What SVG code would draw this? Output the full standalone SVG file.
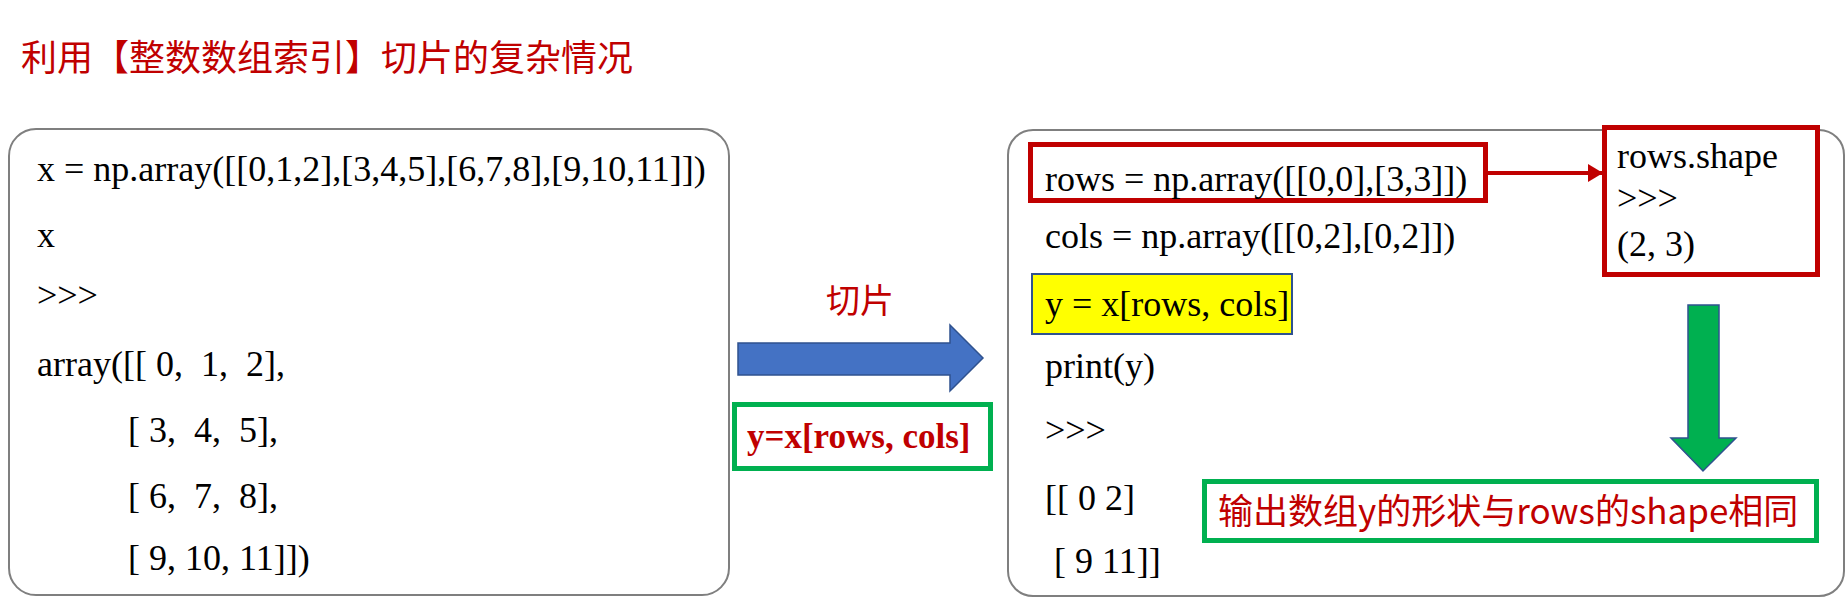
<svg xmlns="http://www.w3.org/2000/svg" width="1848" height="606" viewBox="0 0 1848 606" xml:space="preserve">
<style>
text { white-space: pre; }
.code { font-family: "Liberation Serif", "Times New Roman", serif; font-size: 36px; fill: #000; }
.cjk { font-family: "Noto Sans CJK SC", "Noto Sans CJK TC", sans-serif; fill: #C00000; }
.panel { fill: #fff; stroke: #7F7F7F; stroke-width: 2; }
.redbox { fill: #fff; stroke: #C00000; stroke-width: 5; }
.greenbox { fill: #fff; stroke: #00B050; stroke-width: 5; }
</style>
<defs>
<marker id="redhead" markerUnits="userSpaceOnUse" markerWidth="16" markerHeight="20" refX="15" refY="9" orient="auto">
<path d="M0,0 L15,9 L0,18 Z" fill="#C00000"/>
</marker>
</defs>
<rect width="1848" height="606" fill="#fff"/>

<g id="title">
<text class="cjk" x="21" y="71" font-size="36">利用【整数数组索引】切片的复杂情况</text>
</g>

<g id="left-panel">
<rect class="panel" x="9" y="129" width="720" height="466" rx="27" ry="27"/>
<text class="code" x="37" y="181">x = np.array([[0,1,2],[3,4,5],[6,7,8],[9,10,11]])</text>
<text class="code" x="37" y="247">x</text>
<text class="code" x="37" y="307">&gt;&gt;&gt;</text>
<text class="code" x="37" y="376">array([[ 0,  1,  2],</text>
<text class="code" x="128" y="442">[ 3,  4,  5],</text>
<text class="code" x="128" y="508">[ 6,  7,  8],</text>
<text class="code" x="128" y="570">[ 9, 10, 11]])</text>
</g>

<g id="slice-label">
<text class="cjk" x="860" y="313" font-size="34" text-anchor="middle">切片</text>
</g>

<g id="slice-expr">
<rect class="greenbox" x="734.5" y="404.5" width="256" height="64"/>
<text x="747" y="448" font-family="Liberation Serif, Times New Roman, serif" font-size="35" font-weight="bold" fill="#C00000">y=x[rows, cols]</text>
</g>

<g id="right-panel">
<rect class="panel" x="1008" y="130" width="836" height="466" rx="25" ry="25"/>
<text class="code" x="1045" y="248">cols = np.array([[0,2],[0,2]])</text>
<text class="code" x="1045" y="378">print(y)</text>
<text class="code" x="1045" y="442">&gt;&gt;&gt;</text>
<text class="code" x="1045" y="510">[[ 0 2]</text>
<text class="code" x="1045" y="573"> [ 9 11]]</text>
</g>

<g id="rows-def">
<rect class="redbox" x="1030.5" y="144.5" width="455" height="56"/>
<text class="code" x="1045" y="191">rows = np.array([[0,0],[3,3]])</text>
</g>

<g id="index-expr">
<rect x="1032" y="274" width="260" height="60" fill="#FFFF00" stroke="#2F528F" stroke-width="2"/>
<text class="code" x="1045" y="316">y = x[rows, cols]</text>
</g>

<g id="shape-box">
<rect class="redbox" x="1604.5" y="127.5" width="213" height="147"/>
<text class="code" x="1617" y="168">rows.shape</text>
<text class="code" x="1617" y="210">&gt;&gt;&gt;</text>
<text class="code" x="1617" y="256">(2, 3)</text>
</g>

<g id="note-box">
<rect class="greenbox" x="1204.5" y="481.5" width="612" height="59"/>
<text class="cjk" x="1218" y="524" font-size="35">输出数组y的形状与rows的shape相同</text>
</g>

<g id="connectors">
<path d="M738,343 L950,343 L950,325 L983,358 L950,391 L950,375 L738,375 Z" fill="#4472C4" stroke="#2F528F" stroke-width="1.5"/>
<line x1="1488" y1="173" x2="1603" y2="173" stroke="#C00000" stroke-width="4" marker-end="url(#redhead)"/>
<path d="M1688,305 L1719,305 L1719,438 L1736,438 L1703,471 L1671,438 L1688,438 Z" fill="#00B050" stroke="#2F528F" stroke-width="1.5"/>
</g>
</svg>
